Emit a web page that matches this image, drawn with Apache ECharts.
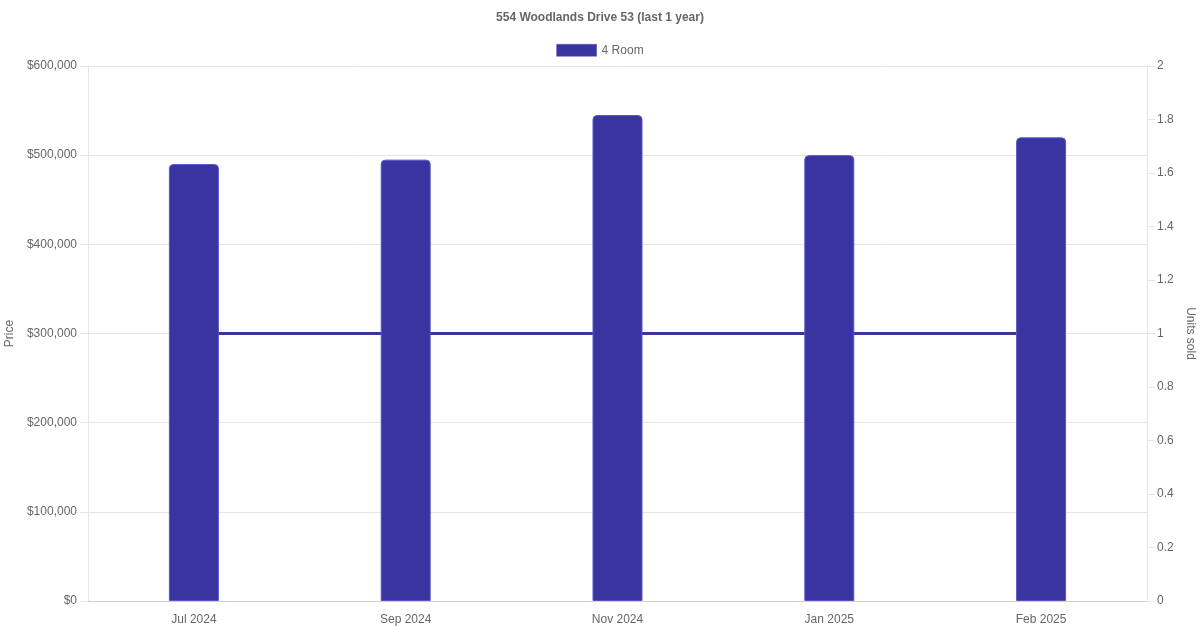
<!DOCTYPE html>
<html lang="en">
<head>
    <meta charset="UTF-8">
    <title>554 Woodlands Drive 53</title>
    <script src="https://cdn.jsdelivr.net/npm/echarts@6/dist/echarts.min.js"></script>
    <style>
        html, body { margin: 0; padding: 0; background: #fff; }
        #chart { width: 1200px; height: 630px; }
    </style>
</head>
<body>
    <div id="chart"></div>
    <script>
        // data
        var months = ['Jul 2024', 'Sep 2024', 'Nov 2024', 'Jan 2025', 'Feb 2025'];
        var prices = [490000, 495000, 545000, 500000, 520000];
        var unitsSold = [1, 1, 1, 1, 1];
        var priceTicks = [0, 100000, 200000, 300000, 400000, 500000, 600000];
        var unitTicks = [0, 0.2, 0.4, 0.6, 0.8, 1, 1.2, 1.4, 1.6, 1.8, 2];

        var barColor = '#3934a0';
        var txt = '#666';
        var gridColor = '#e5e5e5';
        var font = 'Liberation Sans, Arial, sans-serif';

        var myChart = echarts.init(document.getElementById('chart'));

        var option = {
            animation: false,
            textStyle: { fontFamily: font },
            title: {
                text: '554 Woodlands Drive 53 (last 1 year)',
                left: 'center',
                top: 7,
                textStyle: { fontSize: 12, fontWeight: 'bold', color: txt, fontFamily: font }
            },
            legend: {
                top: 39,
                left: 'center',
                itemWidth: 40,
                itemHeight: 12,
                itemGap: 10,
                data: [{ name: '4 Room', icon: 'rect', itemStyle: { borderWidth: 0.5 } }],
                textStyle: { fontSize: 12, color: txt, fontFamily: font }
            },
            grid: { left: 88, right: 53, top: 66, bottom: 29, containLabel: false, outerBoundsMode: 'none' },
            xAxis: {
                type: 'category',
                data: months,
                boundaryGap: true,
                axisLine: { lineStyle: { color: '#d0d0d0' } },
                axisTick: { show: false },
                axisLabel: { color: txt, fontSize: 12, margin: 13, fontFamily: font }
            },
            yAxis: [{
                type: 'value',
                name: 'Price',
                nameLocation: 'middle',
                nameGap: 67,
                nameTextStyle: { color: txt, fontSize: 12, fontFamily: font },
                min: priceTicks[0],
                max: priceTicks[priceTicks.length - 1],
                interval: priceTicks[1] - priceTicks[0],
                axisLine: { show: true, lineStyle: { color: gridColor } },
                axisTick: { show: true, length: 8, lineStyle: { color: gridColor } },
                axisLabel: {
                    color: txt, fontSize: 12, margin: 11, fontFamily: font,
                    formatter: function (v) { return '$' + v.toLocaleString('en-US'); }
                },
                splitLine: { lineStyle: { color: gridColor } }
            }, {
                type: 'value',
                name: 'Units sold',
                nameLocation: 'middle',
                nameRotate: -90,
                nameGap: 31,
                nameTextStyle: { color: txt, fontSize: 12, fontFamily: font },
                position: 'right',
                min: unitTicks[0],
                max: unitTicks[unitTicks.length - 1],
                interval: 0.2,
                axisLine: { show: true, lineStyle: { color: gridColor } },
                axisTick: { show: true, length: 8, lineStyle: { color: gridColor } },
                axisLabel: {
                    color: txt, fontSize: 12, margin: 10, fontFamily: font,
                    formatter: function (v) { return String(Math.round(v * 10) / 10); }
                },
                splitLine: { show: false }
            }],
            series: [{
                name: '4 Room',
                type: 'bar',
                yAxisIndex: 0,
                data: prices,
                barWidth: 50,
                z: 3,
                itemStyle: {
                    color: barColor,
                    borderColor: '#5a55c4',
                    borderWidth: 1,
                    borderRadius: [4, 4, 0, 0]
                }
            }, {
                name: 'Units',
                type: 'line',
                yAxisIndex: 1,
                data: unitsSold,
                z: 1,
                symbol: 'none',
                lineStyle: { color: barColor, width: 3 },
                itemStyle: { color: barColor }
            }]
        };

        myChart.setOption(option);
    </script>
</body>
</html>
